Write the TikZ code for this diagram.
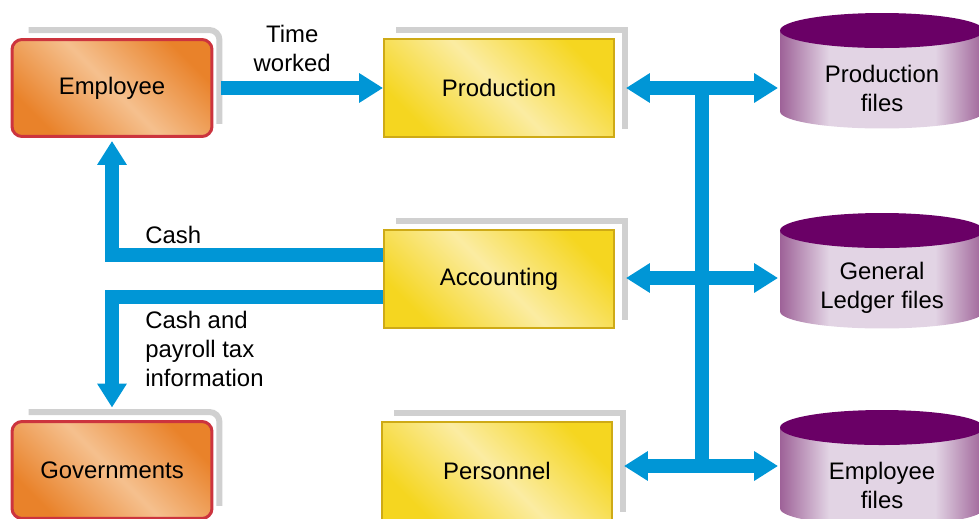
\documentclass[tikz,border=0pt]{standalone}
\usepackage{fontspec}
\setmainfont{Liberation Sans}
\usetikzlibrary{arrows.meta,backgrounds}

\definecolor{flowblue}{RGB}{0,150,214}
\definecolor{partydark}{RGB}{233,130,42}
\definecolor{partylight}{RGB}{245,192,142}
\definecolor{partyrim}{RGB}{204,52,62}
\definecolor{deptdark}{RGB}{245,214,32}
\definecolor{deptlight}{RGB}{251,236,162}
\definecolor{deptrim}{RGB}{206,170,22}
\definecolor{filetop}{RGB}{106,0,102}
\definecolor{fileedge}{RGB}{158,98,152}
\definecolor{filemid}{RGB}{226,212,228}
\definecolor{backgrey}{RGB}{208,208,208}

\pgfdeclarehorizontalshading{filebody}{100bp}{color(0bp)=(fileedge); color(25bp)=(fileedge); color(37bp)=(filemid); color(63bp)=(filemid); color(75bp)=(fileedge); color(100bp)=(fileedge)}

\tikzset{
    party/.style={draw=partyrim, line width=0.06cm, rounded corners=0.2cm,
        top color=partydark, bottom color=partydark, middle color=partylight,
        shading angle=-45, minimum width=4cm, minimum height=1.94cm},
    dept/.style={draw=deptrim, line width=0.04cm,
        top color=deptdark, bottom color=deptdark, middle color=deptlight,
        shading angle=-45, minimum width=4.6cm, minimum height=1.96cm},
    file/.style={minimum width=4.08cm, minimum height=1.62cm, outer sep=0pt, align=center},
    flow/.style={draw=flowblue, line width=0.28cm, -{Triangle[length=0pt 1.7, width=0pt 2]}},
    flow2/.style={draw=flowblue, line width=0.28cm, {Triangle[length=0pt 1.7, width=0pt 2]}-{Triangle[length=0pt 1.7, width=0pt 2]}},
    backline/.style={draw=backgrey, line width=0.12cm},
    note/.style={align=left, inner sep=0pt}
}

\begin{document}
\begin{tikzpicture}[x=0.02cm, y=0.02cm, font=\fontsize{13.6}{16.5}\selectfont]
    \useasboundingbox (0,0) rectangle (979,518);

    % Outside parties
    \node[party] (emp) at (112,430) {Employee};
    \node[party] (gov) at (112,48) {Governments};

    % Departments
    \node[dept] (prod) at (499,430) {Production};
    \node[dept] (acc) at (499,239) {Accounting};
    \node[dept] (pers) at (497,47) {Personnel};

    % Files
    \node[file] (pfile) at (882,430) {Production\\files};
    \node[file] (gfile) at (882,230) {General\\Ledger files};
    \node[file] (efile) at (882,33) {Employee\\files};

    \begin{scope}[on background layer]
        \foreach \f in {pfile,gfile,efile}{
            \shade[shading=filebody] ([yshift=0.34cm]\f.north west) -- ([yshift=0.34cm]\f.south west)
                arc[start angle=180, end angle=360, x radius=2.04cm, y radius=0.34cm]
                -- ([yshift=0.34cm]\f.north east) -- cycle;
            \fill[filetop] ([yshift=0.34cm]\f.north) ellipse[x radius=2.04cm, y radius=0.35cm];
        }
        \foreach \p in {emp,gov}
            \draw[backline, rounded corners=0.2cm] ([shift={(18,8)}]\p.north west) -| ([shift={(6,14)}]\p.south east);
        \foreach \d in {prod,acc,pers}
            \draw[backline] ([shift={(13,8)}]\d.north west) -| ([shift={(10,9)}]\d.south east);
    \end{scope}

    % Time worked
    \draw[flow, shorten <=0.16cm] (emp.east) -- (prod.west)
        node[midway, above=0.06cm, xshift=-0.12cm, align=center] {Time\\worked};

    % Cash flows
    \draw[flow, shorten >=0.06cm] ([yshift=0.48cm]acc.west) -| (emp.south);
    \node[note, anchor=west] (cash) at (145,283) {Cash};
    \draw[flow, shorten >=0.25cm] ([yshift=-0.36cm]acc.west) -| (gov.north);
    \node[note, anchor=west] (tax) at (145,169) {Cash and\\payroll tax\\information};

    % File access
    \coordinate (bust) at (702,430);
    \coordinate (busb) at (702,52);
    \draw[draw=flowblue, line width=0.28cm] (bust) -- (busb);
    \draw[flow2, shorten <=0.22cm, shorten >=0.04cm] (prod.east) -- (pfile.west |- prod.east);
    \draw[flow2, shorten <=0.22cm, shorten >=0.04cm] (acc.east |- 0,240) -- (gfile.west |- 0,240);
    \draw[flow2, shorten <=0.22cm, shorten >=0.04cm] (pers.east |- busb) -- (efile.west |- busb);
\end{tikzpicture}
\end{document}
